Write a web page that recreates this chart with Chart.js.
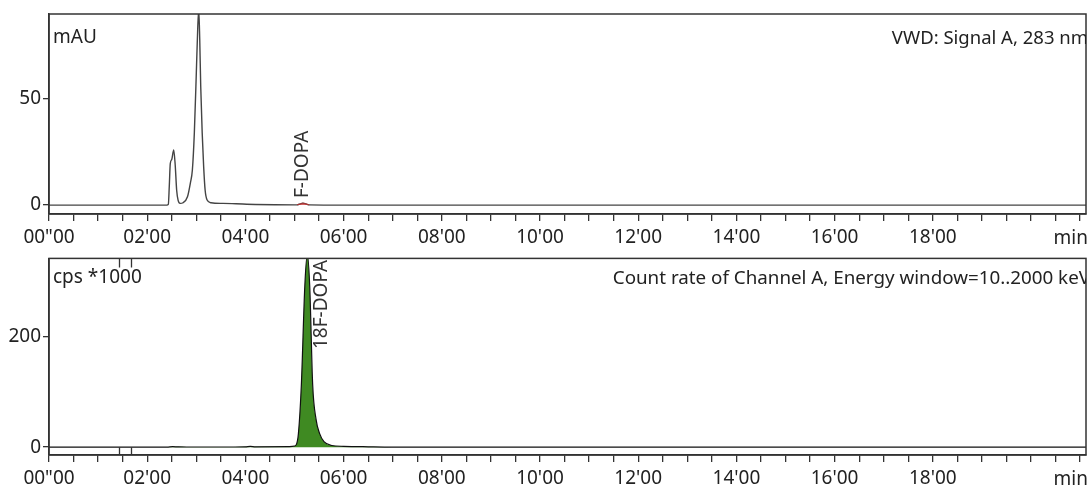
<!DOCTYPE html>
<html>
<head>
<meta charset="utf-8">
<script src="https://cdn.jsdelivr.net/npm/chart.js@4.4.1/dist/chart.umd.min.js"></script>
<style>
  html, body { margin: 0; padding: 0; background: #fff; }
  .panel { position: absolute; left: 0; width: 1088px; }
  #uv-wrap { top: 0; height: 245px; }
  #rad-wrap { top: 245px; height: 241px; }
</style>
</head>
<body>
<div class="panel" id="uv-wrap"><canvas id="chart-uv"></canvas></div>
<div class="panel" id="rad-wrap"><canvas id="chart-rad"></canvas></div>
<script>
// UV trace (mAU) vs retention time (min)
const uvTime = [0, 2.40, 2.43, 2.45, 2.47, 2.50, 2.54, 2.57, 2.60, 2.63, 2.67, 2.73, 2.82, 2.88, 2.92, 2.96, 3.00, 3.03, 3.05, 3.07, 3.09, 3.12, 3.15, 3.18, 3.22, 3.30, 3.54, 3.81, 4.2, 5.0, 5.05, 5.12, 5.17, 5.23, 5.30, 6.0, 21.2];
const uvSignal = [0, 0, 0.3, 9, 19.5, 21.5, 26, 19, 7, 2.2, 0.8, 1.1, 3.9, 10.5, 16.5, 34, 62, 84, 92, 78, 56, 34, 18, 7, 2.4, 1.1, 0.8, 0.6, 0.3, 0.1, 0.1, 0.6, 0.9, 0.6, 0.1, 0, 0];

// integrated F-DOPA peak on the UV trace
const uvPeakTime = [5.05, 5.12, 5.17, 5.23, 5.30];
const uvPeakSignal = [0.1, 0.6, 0.9, 0.6, 0.1];

// radio trace (cps *1000)
const radTime = [0, 2.40, 2.52, 2.62, 2.80, 3.50, 4.00, 4.10, 4.20, 4.90, 5.00, 5.04, 5.08, 5.14, 5.21, 5.26, 5.31, 5.37, 5.44, 5.51, 5.60, 5.76, 6.00, 6.50, 7.00, 21.2];
const radSignal = [0, 0, 0.8, 0.5, 0.2, 0.2, 0.6, 1.5, 0.5, 1.0, 2, 5, 25, 114, 293, 350, 293, 114, 50, 25, 10, 3, 1.5, 0.6, 0, 0];

const xTicksMajor = [0, 2, 4, 6, 8, 10, 12, 14, 16, 18];
const uvYTicks = [0, 50];
const radYTicks = [0, 200];
const injectMarks = [1.42, 1.66];

const uvPeaks = [{ label: 'F-DOPA', time: 5.17 }];
const radPeaks = [{ label: '18F-DOPA', time: 5.26 }];

const FONT = "'Noto Sans', 'Open Sans', sans-serif";
const INK = '#333';

const toXY = (xs, ys) => xs.map((x, i) => ({ x, y: ys[i] }));

function fmtTime(v) {
  if (v === 0) return '00"00';
  const m = String(Math.round(v)).padStart(2, '0');
  return m + "'00";
}

function xScale() {
  return {
    type: 'linear',
    min: 0,
    max: 21.12,
    afterBuildTicks: s => {
      const t = [];
      for (let i = 0; i <= 42; i++) t.push({ value: i * 0.5 });
      s.ticks = t;
    },
    afterFit: s => { s.height = 31; },
    ticks: {
      autoSkip: false,
      maxRotation: 0,
      padding: 5,
      color: '#222',
      font: { family: FONT, size: 19 },
      callback: v => xTicksMajor.includes(v) ? fmtTime(v) : ''
    },
    grid: { drawOnChartArea: false, drawTicks: true, tickLength: 7, color: INK, lineWidth: 1.3 },
    border: { display: true, color: INK, width: 1.5 }
  };
}

function yScale(min, max, tickVals) {
  return {
    min, max,
    afterBuildTicks: s => { s.ticks = tickVals.map(v => ({ value: v })); },
    afterFit: s => { s.width = 49; },
    ticks: { padding: 2, color: '#222', font: { family: FONT, size: 19 } },
    grid: { drawOnChartArea: false, drawTicks: true, tickLength: 6, color: INK, lineWidth: 1.3 },
    border: { display: true, color: INK, width: 1.5 }
  };
}

// frame, unit/title texts, "min" label, rotated peak names and marker ticks
const decor = {
  id: 'decor',
  afterDraw(chart, args, o) {
    const { ctx, chartArea: a, scales } = chart;
    ctx.save();
    ctx.strokeStyle = INK;
    ctx.lineWidth = 1.5;
    ctx.strokeRect(a.left, a.top, a.right - a.left, a.bottom - a.top);

    ctx.fillStyle = '#222';
    ctx.textBaseline = 'alphabetic';
    ctx.font = `${o.unitSize}px ${FONT}`;
    ctx.textAlign = 'left';
    ctx.fillText(o.unit, a.left + 4, a.top + o.unitDy);

    // title sits inside the frame and is cut at its right edge
    ctx.save();
    ctx.beginPath();
    ctx.rect(a.left, a.top, a.right - a.left, a.bottom - a.top);
    ctx.clip();
    ctx.font = `${o.titleSize}px ${FONT}`;
    ctx.textAlign = 'right';
    ctx.fillText(o.title, a.right + o.titleDx, a.top + o.titleDy);
    ctx.restore();

    ctx.font = `19px ${FONT}`;
    ctx.textAlign = 'right';
    ctx.textBaseline = 'middle';
    ctx.fillText('min', a.right + 2, a.bottom + 25);

    // peak labels, rotated
    ctx.font = `19px ${FONT}`;
    ctx.fillStyle = INK;
    for (const p of o.peaks) {
      const px = scales.x.getPixelForValue(p.time) + o.peakDx;
      ctx.save();
      ctx.translate(px, o.peakBottom);
      ctx.rotate(-Math.PI / 2);
      ctx.textAlign = 'left';
      ctx.textBaseline = 'middle';
      ctx.fillText(p.label, 0, 0);
      ctx.restore();
    }

    // injection marks
    ctx.strokeStyle = INK;
    ctx.lineWidth = 1.3;
    const y0 = scales.y.getPixelForValue(0);
    for (const t of o.marks) {
      const px = Math.round(scales.x.getPixelForValue(t)) + 0.5;
      ctx.beginPath();
      ctx.moveTo(px, a.top); ctx.lineTo(px, a.top + 9);
      ctx.moveTo(px, y0); ctx.lineTo(px, a.bottom);
      ctx.stroke();
    }
    ctx.restore();
  }
};

Chart.register(decor);

const baseOpts = {
  responsive: true,
  maintainAspectRatio: false,
  animation: false,
  events: [],
  plugins: { legend: { display: false }, tooltip: { enabled: false } }
};

new Chart(document.getElementById('chart-uv'), {
  type: 'line',
  data: {
    datasets: [
      {
        data: toXY(uvPeakTime, uvPeakSignal),
        borderColor: '#a33',
        backgroundColor: 'rgba(200,60,60,0.8)',
        borderWidth: 1,
        fill: 'origin',
        pointRadius: 0,
        cubicInterpolationMode: 'monotone'
      },
      {
        data: toXY(uvTime, uvSignal),
        borderColor: '#444',
        borderWidth: 1.4,
        fill: false,
        pointRadius: 0,
        cubicInterpolationMode: 'monotone'
      }
    ]
  },
  options: {
    ...baseOpts,
    layout: { padding: { top: 14, right: 2, left: 0, bottom: 0 } },
    scales: { x: xScale(), y: yScale(-4.2, 90, uvYTicks) },
    plugins: {
      ...baseOpts.plugins,
      decor: {
        unit: 'mAU', unitSize: 19, unitDy: 29,
        title: 'VWD: Signal A, 283 nm', titleSize: 18.5, titleDx: 2, titleDy: 30,
        peaks: uvPeaks, peakDx: 0, peakBottom: 198,
        marks: []
      }
    }
  }
});

new Chart(document.getElementById('chart-rad'), {
  type: 'line',
  data: {
    datasets: [
      {
        data: toXY(radTime, radSignal),
        borderColor: '#111',
        backgroundColor: '#3f8a22',
        borderWidth: 1.2,
        fill: 'origin',
        pointRadius: 0,
        cubicInterpolationMode: 'monotone'
      }
    ]
  },
  options: {
    ...baseOpts,
    layout: { padding: { top: 10, right: 2, left: 0, bottom: 0 } },
    scales: { x: xScale(), y: yScale(-14.3, 343, radYTicks) },
    plugins: {
      ...baseOpts.plugins,
      decor: {
        unit: 'cps *1000', unitSize: 19, unitDy: 25,
        title: 'Count rate of Channel A, Energy window=10..2000 keV', titleSize: 18.8, titleDx: 4, titleDy: 26,
        peaks: radPeaks, peakDx: 14, peakBottom: 104,
        marks: injectMarks
      }
    }
  }
});
</script>
</body>
</html>
